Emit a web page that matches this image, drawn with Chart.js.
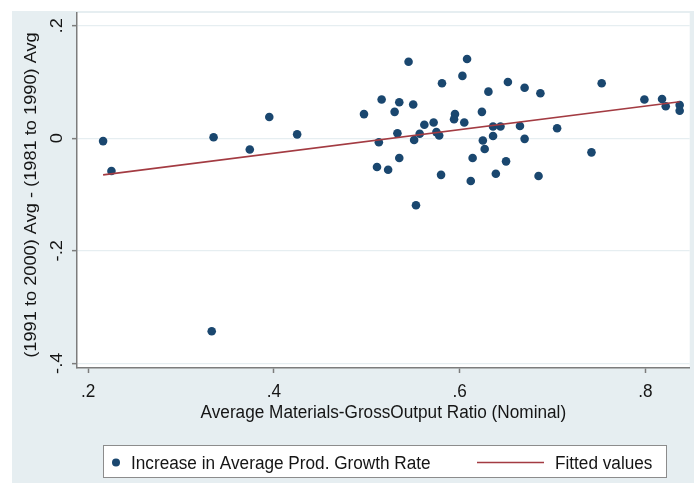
<!DOCTYPE html>
<html>
<head>
<meta charset="utf-8">
<script src="https://cdn.jsdelivr.net/npm/chart.js@4"></script>
<style>
  body { margin: 0; background: #fff; }
  canvas { display: block; }
</style>
</head>
<body>
<canvas id="c" width="694" height="483"></canvas>
<script>
// scatter values
var matRatio = [0.216, 0.225, 0.333, 0.335, 0.374, 0.395, 0.425, 0.497, 0.511, 0.513, 0.516, 0.523, 0.530, 0.533, 0.535, 0.535, 0.545, 0.550, 0.551, 0.553, 0.557, 0.562, 0.572, 0.575, 0.578, 0.580, 0.581, 0.595, 0.594, 0.603, 0.605, 0.608, 0.612, 0.614, 0.624, 0.625, 0.627, 0.631, 0.636, 0.636, 0.639, 0.644, 0.650, 0.652, 0.665, 0.670, 0.670, 0.685, 0.687, 0.705, 0.742, 0.753, 0.799, 0.818, 0.822, 0.837, 0.837]
var growthIncrease = [-0.005, -0.058, -0.343, 0.002, -0.020, 0.038, 0.007, 0.043, -0.051, -0.007, 0.069, -0.056, 0.047, 0.009, 0.064, -0.035, 0.136, 0.060, -0.003, -0.119, 0.008, 0.024, 0.028, 0.011, 0.005, -0.065, 0.098, 0.043, 0.034, 0.111, 0.028, 0.141, -0.076, -0.035, 0.047, -0.004, -0.019, 0.083, 0.021, 0.004, -0.063, 0.021, -0.041, 0.100, 0.022, 0.090, -0.001, -0.067, 0.080, 0.018, -0.025, 0.098, 0.069, 0.070, 0.057, 0.059, 0.049]

// fitted line end points
var fitX = [0.216, 0.837]
var fitY = [-0.065, 0.065]

var xTicks = [0.2, 0.4, 0.6, 0.8]
var yTicks = [-0.4, -0.2, 0, 0.2]

var xTitle = "Average Materials-GrossOutput Ratio (Nominal)"
var yTitle = "(1991 to 2000) Avg - (1981 to 1990) Avg"
var legendLabels = ["Increase in Average Prod. Growth Rate", "Fitted values"]

var navy = "#1a476f"
var maroon = "#a33b42"
var panel = "#e6eef1"
var axisGray = "#7c7c7c"
var font = "17.2px 'Liberation Sans', Arial, sans-serif"

function fmt(v) {
    if (v == 0) return "0"
    return String(v).replace("0.", ".")
}

// the source image is a little stretched vertically, so is the text here
function drawText(ctx, s, x, y, rotated, align) {
    ctx.save()
    ctx.translate(x, y)
    if (rotated) {
        ctx.rotate(-Math.PI / 2)
        ctx.scale(1.06, 1)
    } else {
        ctx.scale(1, 1.07)
    }
    ctx.textAlign = align || "center"
    ctx.textBaseline = "alphabetic"
    ctx.fillText(s, 0, 0)
    ctx.restore()
}

var stataLook = {
    id: "stataLook",
    beforeDraw: function (chart) {
        var ctx = chart.ctx
        var a = chart.chartArea
        ctx.save()
        ctx.fillStyle = "#fff"
        ctx.fillRect(0, 0, chart.width, chart.height)
        ctx.fillStyle = panel
        ctx.fillRect(12, 11, chart.width - 12, chart.height - 11)
        ctx.fillStyle = "#fff"
        ctx.fillRect(a.left, a.top, a.right - a.left, a.bottom - a.top)
        ctx.restore()
    },
    afterDraw: function (chart) {
        var ctx = chart.ctx
        var a = chart.chartArea
        var xs = chart.scales.x
        var ys = chart.scales.y
        ctx.save()
        ctx.fillStyle = "#151515"
        ctx.font = font

        xTicks.forEach(function (v) {
            drawText(ctx, fmt(v), xs.getPixelForValue(v), 397, false)
        })
        yTicks.forEach(function (v) {
            drawText(ctx, fmt(v), 62, ys.getPixelForValue(v), true)
        })
        drawText(ctx, xTitle, (a.left + a.right) / 2, 418, false)
        drawText(ctx, yTitle, 36, 195, true)

        // legend box
        ctx.fillStyle = "#fff"
        ctx.fillRect(103.5, 445, 563, 33)
        ctx.strokeStyle = "#8c8c8c"
        ctx.lineWidth = 1
        ctx.strokeRect(103.5, 445.5, 563, 32)

        ctx.fillStyle = navy
        ctx.beginPath()
        ctx.arc(116, 462.5, 4, 0, Math.PI * 2)
        ctx.fill()

        ctx.strokeStyle = maroon
        ctx.lineWidth = 1.6
        ctx.beginPath()
        ctx.moveTo(477, 462.5)
        ctx.lineTo(544, 462.5)
        ctx.stroke()

        ctx.fillStyle = "#151515"
        drawText(ctx, legendLabels[0], 131, 468.5, false, "left")
        drawText(ctx, legendLabels[1], 555, 468.5, false, "left")
        ctx.restore()
    }
}

new Chart(document.getElementById("c"), {
    type: "scatter",
    data: {
        datasets: [{
            label: legendLabels[1],
            type: "line",
            data: fitX.map(function (x, i) { return { x: x, y: fitY[i] } }),
            borderColor: maroon,
            borderWidth: 1.6,
            pointRadius: 0,
            showLine: true,
            fill: false,
            order: 1
        }, {
            label: legendLabels[0],
            data: matRatio.map(function (x, i) { return { x: x, y: growthIncrease[i] } }),
            backgroundColor: navy,
            borderWidth: 0,
            pointRadius: 4.3,
            order: 2
        }]
    },
    options: {
        responsive: false,
        animation: false,
        devicePixelRatio: 1,
        layout: { padding: { left: 12, top: 13, right: 0, bottom: 0 } },
        plugins: { legend: { display: false }, tooltip: { enabled: false } },
        scales: {
            x: {
                type: "linear",
                min: 0.1879,
                max: 0.8478,
                afterBuildTicks: function (s) { s.ticks = xTicks.map(function (v) { return { value: v } }) },
                afterFit: function (s) { s.height = 115 },
                ticks: { display: false },
                grid: { drawOnChartArea: false, tickColor: axisGray, tickLength: 5, tickWidth: 1.5 },
                border: { display: true, color: axisGray, width: 1.5 }
            },
            y: {
                min: -0.4084,
                max: 0.2228,
                afterBuildTicks: function (s) { s.ticks = yTicks.map(function (v) { return { value: v } }) },
                afterFit: function (s) { s.width = 65 },
                ticks: { display: false },
                grid: { color: panel, lineWidth: 1.3, tickColor: axisGray, tickLength: 5, tickWidth: 1.5 },
                border: { display: true, color: axisGray, width: 1.5 }
            }
        }
    },
    plugins: [stataLook]
})
</script>
</body>
</html>
